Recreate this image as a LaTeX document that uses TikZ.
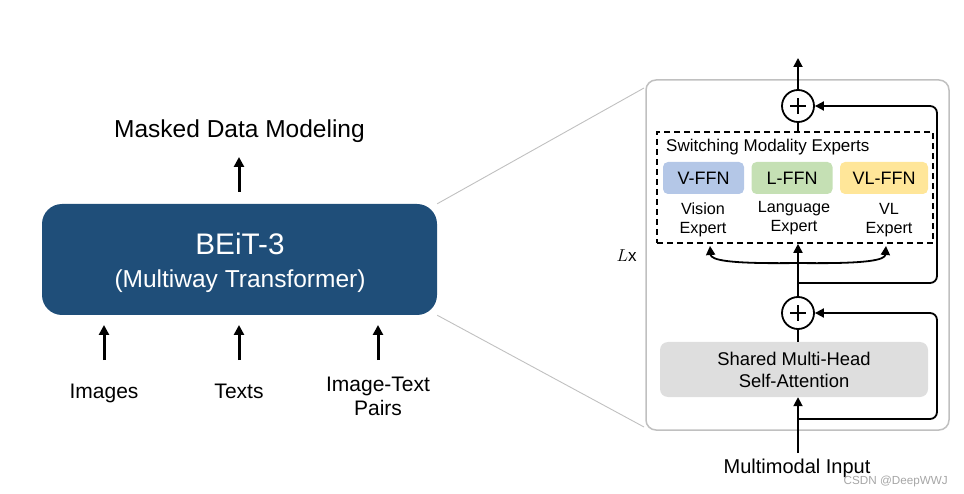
\documentclass[tikz,border=0pt]{standalone}
\usepackage{fontspec}
\setmainfont{Liberation Sans}
\usetikzlibrary{arrows.meta}
\definecolor{beitblue}{HTML}{1F4E79}
\definecolor{vblue}{HTML}{B4C7E7}
\definecolor{lgreen}{HTML}{C5E0B4}
\definecolor{vlyellow}{HTML}{FFE699}
\definecolor{attgray}{HTML}{DEDEDE}
\definecolor{panelgray}{HTML}{C0C0C0}
\definecolor{wmgray}{HTML}{A6A6A6}
\begin{document}
\begin{tikzpicture}[x=1pt,y=-1pt,
  bigarrow/.style={line width=3pt,-{Triangle[length=10pt,width=10pt]}},
  arr/.style={line width=1.8pt,-{Triangle[length=9pt,width=9pt]}},
  flow/.style={line width=1.8pt},
  zoomline/.style={draw=panelgray,line width=0.9pt},
  mainbox/.style={fill=beitblue,draw=none,rounded corners=20pt,minimum width=395pt,minimum height=111pt,inner sep=0pt},
  panel/.style={draw=panelgray,line width=1.5pt,rounded corners=10pt,minimum width=303pt,minimum height=350pt,inner sep=0pt},
  dashbox/.style={draw,dash pattern=on 6pt off 4pt,line width=1.6pt,minimum width=276pt,minimum height=111pt,inner sep=0pt},
  ffn/.style={rounded corners=5pt,minimum height=32pt,inner sep=0pt,font=\fontsize{18}{20}\selectfont},
  att/.style={fill=attgray,rounded corners=8pt,minimum width=268pt,minimum height=55pt,inner sep=0pt},
  plus/.style={circle,draw,line width=1.8pt,minimum size=32pt,inner sep=0pt},
  biglbl/.style={anchor=base,inner sep=0pt,font=\fontsize{24.5}{28}\selectfont},
  lbl/.style={anchor=base,inner sep=0pt,font=\fontsize{21}{24}\selectfont},
  smlbl/.style={anchor=base,inner sep=0pt,font=\fontsize{16.2}{19}\selectfont},
  attlbl/.style={anchor=base,inner sep=0pt,font=\fontsize{18.4}{22}\selectfont}
]
\useasboundingbox (0,0) rectangle (964,494);

% ---------- left part ----------
\node[mainbox] (main) at (239.5,259.5) {};
\node[anchor=base,inner sep=0pt,text=white,font=\fontsize{29.7}{34}\selectfont] (title) at (240,255) {BEiT-3};
\node[anchor=base,inner sep=0pt,text=white,font=\fontsize{24.5}{28}\selectfont] (subtitle) at (240,288) {(Multiway Transformer)};

\node[biglbl] (mdm) at (239.5,138) {Masked Data Modeling};
\coordinate (mdmA) at (239,192);
\coordinate (mdmB) at (239,157);
\draw[bigarrow] (mdmA) -- (mdmB);

\node[lbl] (images) at (104,398) {Images};
\node[lbl] (texts) at (239,398) {Texts};
\node[lbl] (itp1) at (378,391) {Image-Text};
\node[lbl] (itp2) at (378,415) {Pairs};
\coordinate (i1) at (104,360); \coordinate (i1e) at (104,325);
\coordinate (t1) at (239,360); \coordinate (t1e) at (239,325);
\coordinate (p1) at (378,360); \coordinate (p1e) at (378,325);
\draw[bigarrow] (i1) -- (i1e);
\draw[bigarrow] (t1) -- (t1e);
\draw[bigarrow] (p1) -- (p1e);

% ---------- zoom lines ----------
\node[panel] (panel) at (797.5,255) {};
\coordinate (zt) at (644,88);
\coordinate (zb) at (644,427);
\draw[zoomline] (main.north east) -- (zt);
\draw[zoomline] (main.south east) -- (zb);

% ---------- right panel ----------
\node[anchor=base,inner sep=0pt,font=\fontsize{17}{20}\selectfont] (lx) at (626.5,262) {$L$x};

\node[plus] (ptop) at (798,106) {};
\draw[line width=1.5pt] ([xshift=-8pt]ptop.center) -- ([xshift=8pt]ptop.center);
\draw[line width=1.5pt] ([yshift=-8pt]ptop.center) -- ([yshift=8pt]ptop.center);
\coordinate (out) at (798,58);
\draw[arr] (ptop.north) -- (out);

\node[dashbox] (experts) at (795,187.5) {};
\node[anchor=base west,inner sep=0pt,font=\fontsize{17}{20}\selectfont] (swt) at (666,152) {Switching Modality Experts};
\node[ffn,fill=vblue,minimum width=81pt] (vffn) at (703.5,178) {V-FFN};
\node[ffn,fill=lgreen,minimum width=81pt] (lffn) at (792,178) {L-FFN};
\node[ffn,fill=vlyellow,minimum width=88pt] (vlffn) at (884,178) {VL-FFN};
\node[smlbl] (ve1) at (703,215) {Vision};
\node[smlbl] (ve2) at (703,234) {Expert};
\node[smlbl] (le1) at (794,213) {Language};
\node[smlbl] (le2) at (794,232) {Expert};
\node[smlbl] (vle1) at (889,215) {VL};
\node[smlbl] (vle2) at (889,234) {Expert};

\draw[flow] (experts.north -| ptop) -- (ptop.south);

\node[plus] (pbot) at (798,313) {};
\draw[line width=1.5pt] ([xshift=-8pt]pbot.center) -- ([xshift=8pt]pbot.center);
\draw[line width=1.5pt] ([yshift=-8pt]pbot.center) -- ([yshift=8pt]pbot.center);

\draw[arr] (pbot.north) -- (experts.south -| pbot);
\coordinate (fork) at (798,263);
\coordinate (lend) at (710,246);
\coordinate (rend) at (886,246);
\draw[arr] (fork) .. controls (728,264) and (711,260) .. (lend);
\draw[arr] (fork) .. controls (868,264) and (885,260) .. (rend);

\coordinate (res1) at (798,283);
\draw[arr,rounded corners=7pt] (res1) -- (937,283) -- (937,106) -- (ptop.east);

\node[att] (attn) at (794,369.5) {};
\node[attlbl] (at1) at (794,365) {Shared Multi-Head};
\node[attlbl] (at2) at (794,387) {Self-Attention};
\draw[flow] (pbot.south) -- (attn.north -| pbot);

\node[anchor=base,inner sep=0pt,font=\fontsize{20}{24}\selectfont] (inp) at (797,473) {Multimodal Input};
\coordinate (inA) at (798,453);
\draw[arr] (inA) -- (attn.south -| inA);
\coordinate (res2) at (798,419);
\draw[arr,rounded corners=7pt] (res2) -- (937,419) -- (937,313) -- (pbot.east);

\node[anchor=base east,inner sep=0pt,text=wmgray,font=\fontsize{11.7}{14}\selectfont] (wm) at (948,484) {CSDN @DeepWWJ};
\end{tikzpicture}
\end{document}
